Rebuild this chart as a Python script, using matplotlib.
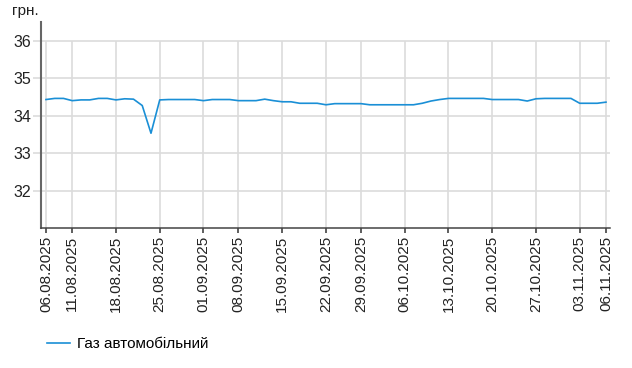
import numpy as np
import pandas as pd
import matplotlib
matplotlib.use("Agg")
import matplotlib.pyplot as plt

plt.rcParams['font.family'] = ['Liberation Sans', 'DejaVu Sans']

# trading days shown on the chart (two days missing in September)
dates = pd.bdate_range("2025-08-06", "2025-11-06")
dates = dates.drop([pd.Timestamp("2025-09-05"), pd.Timestamp("2025-09-26")])

prices = [
    34.43, 34.46, 34.46, 34.40, 34.42, 34.42, 34.46, 34.46, 34.42, 34.45,
    34.44, 34.27, 33.53, 34.42, 34.43, 34.43, 34.43, 34.43, 34.40, 34.43,
    34.43, 34.43, 34.40, 34.40, 34.40, 34.44, 34.40, 34.37, 34.37, 34.33,
    34.33, 34.33, 34.29, 34.32, 34.32, 34.32, 34.32, 34.29, 34.29, 34.29,
    34.29, 34.29, 34.29, 34.33, 34.39, 34.43, 34.46, 34.46, 34.46, 34.46,
    34.46, 34.43, 34.43, 34.43, 34.43, 34.39, 34.45, 34.46, 34.46, 34.46,
    34.46, 34.33, 34.33, 34.33, 34.36,
]
series_name = "Газ автомобільний"
y_ticks = [32, 33, 34, 35, 36]

labels = [d.strftime("%d.%m.%Y") for d in dates]
x = np.arange(len(labels))
tick_idx = [i for i in x if i == 0 or i == len(x) - 1 or dates[i].weekday() == 0]

fig = plt.figure(figsize=(6.32, 3.68), dpi=100)
ax = fig.add_axes([41 / 632, 1 - 228 / 368, 569 / 632, 206 / 368])

grid_c = '#dcdcdc'
ax.set_ylim(31, 36.5)
ax.set_xlim(-0.57, len(x) - 1 + 0.46)
ax.set_yticks(y_ticks)
ax.grid(axis='y', color=grid_c, linewidth=1.2)
ax.vlines(tick_idx, 31, 36, color=grid_c, linewidth=1.2, zorder=1)
ax.set_axisbelow(True)

ax.plot(x, prices, color='#1a8fd6', linewidth=1.2, label=series_name, zorder=3)

ax.set_xticks(tick_idx)
ax.set_xticklabels([labels[i] for i in tick_idx], rotation=90, fontsize=11, color='#222222')
ax.tick_params(axis='x', length=3.6, width=1.1, color='#333333', pad=2)
ax.tick_params(axis='y', length=5.8, width=1.2, color=grid_c, pad=1, labelsize=11.5, labelcolor='#222222')

for s in ['top', 'right']:
    ax.spines[s].set_visible(False)
ax.spines['left'].set_color('#666666')
ax.spines['left'].set_linewidth(1.5)
ax.spines['bottom'].set_color('#444444')
ax.spines['bottom'].set_linewidth(1.1)

fig.text(12 / 632, 1 - 4 / 368, "грн.", fontsize=11, va='top', ha='left', color='#222222')

fig.legend(loc='center left', bbox_to_anchor=(47 / 632, 1 - 344 / 368), frameon=False,
           borderpad=0, borderaxespad=0, handlelength=1.5, handletextpad=0.45,
           prop={'size': 11})

fig.savefig("out.png", dpi=100)
